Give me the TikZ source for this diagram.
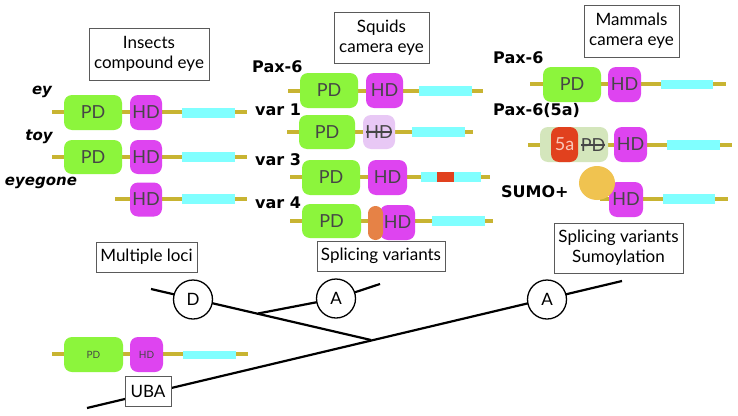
\documentclass[tikz,border=0pt]{standalone}
\usepackage{fontspec}
\setmainfont{Lato}
\newfontfamily\labfont{DejaVu Sans}
\usetikzlibrary{shapes.geometric}
\definecolor{genecol}{RGB}{200,180,50}
\definecolor{pdgreen}{RGB}{140,245,60}
\definecolor{hdmag}{RGB}{222,68,240}
\definecolor{cyanbar}{RGB}{128,255,255}
\definecolor{redbar}{RGB}{225,65,30}
\definecolor{orangeov}{RGB}{230,130,70}
\definecolor{sumoyel}{RGB}{240,195,80}
\definecolor{fadehd}{RGB}{232,200,245}
\definecolor{fadepd}{RGB}{212,230,188}
\definecolor{boxgray}{RGB}{90,90,90}
\definecolor{domtext}{RGB}{70,70,70}
\definecolor{fivea}{RGB}{250,200,185}
\begin{document}
\begin{tikzpicture}[x=1pt,y=-1pt,
  gene/.style={draw=genecol, line width=4pt},
  dom/.style={rounded corners=8pt, inner sep=0pt, minimum height=35pt, font=\fontsize{18}{20}\selectfont, text=domtext},
  pdbox/.style={dom, fill=pdgreen, minimum width=58pt},
  hdbox/.style={dom, fill=hdmag, minimum width=33pt},
  bar/.style={fill=cyanbar, inner sep=0pt, minimum height=10pt, minimum width=53pt},
  infobox/.style={draw=boxgray, line width=0.8pt, fill=white, inner sep=0pt, align=center, font=\fontsize{17}{20}\selectfont},
  lab/.style={font=\labfont\bfseries\fontsize{16}{18}\selectfont, inner sep=0pt},
  ilab/.style={font=\labfont\bfseries\itshape\fontsize{15}{18}\selectfont, inner sep=0pt},
  tree/.style={line width=2.2pt, draw=black},
  event/.style={circle, draw=black, line width=1.3pt, fill=white, minimum size=39pt, inner sep=0pt, font=\fontsize{17}{20}\selectfont},
  strike/.style={line width=1.2pt, draw=domtext}
]
\useasboundingbox (0,0) rectangle (738,415);
\fill[white] (0,0) rectangle (738,415);

% ---------------- Insects ----------------
\node[infobox, minimum width=120pt, minimum height=52pt] (boxIns) at (149,54) {Insects\\compound eye};
\node[ilab] (labEy) at (42,92) {ey};
\node[ilab] (labToy) at (39,137) {toy};
\node[ilab] (labEyegone) at (41,183) {eyegone};

\coordinate (eyL) at (52,112); \coordinate (eyR) at (247,112);
\draw[gene] (eyL) -- (eyR);
\node[pdbox] (eyPD) at (93,112.5) {PD};
\node[hdbox, minimum width=32pt] (eyHD) at (146,112.5) {HD};
\node[bar] (eyC) at (208.5,112.5) {};

\coordinate (toyL) at (52,157); \coordinate (toyR) at (247,157);
\draw[gene] (toyL) -- (toyR);
\node[pdbox, minimum height=34pt] (toyPD) at (93,157) {PD};
\node[hdbox, minimum width=32pt, minimum height=34pt] (toyHD) at (146,157) {HD};
\node[bar] (toyC) at (208.5,157) {};

\coordinate (egL) at (115,199); \coordinate (egR) at (247,199);
\draw[gene] (egL) -- (egR);
\node[hdbox, minimum width=32pt, minimum height=34pt] (egHD) at (146,199.5) {HD};
\node[bar] (egC) at (208.5,199) {};

% ---------------- Squids ----------------
\node[infobox, minimum width=95pt, minimum height=51pt] (boxSq) at (381.5,37.5) {Squids\\camera eye};
\node[lab, anchor=west] (labSqPax) at (252,67) {Pax-6};
\node[lab, anchor=west] (labV1) at (255,110) {var 1};
\node[lab, anchor=west] (labV3) at (255,160) {var 3};
\node[lab, anchor=west] (labV4) at (255,203) {var 4};

\coordinate (sqL) at (288,91); \coordinate (sqR) at (483,91);
\draw[gene] (sqL) -- (sqR);
\node[pdbox] (sqPD) at (329,90.5) {PD};
\node[hdbox, minimum width=37pt] (sqHD) at (384.5,90.5) {HD};
\node[bar] (sqC) at (445.5,91) {};

\coordinate (v1L) at (287,132); \coordinate (v1R) at (473,132);
\draw[gene] (v1L) -- (v1R);
\node[pdbox, minimum width=56pt, minimum height=34pt] (v1PD) at (327,132) {PD};
\node[hdbox, fill=fadehd, minimum width=32pt, minimum height=34pt] (v1HD) at (379,132) {HD};
\draw[strike] ([xshift=-13pt]v1HD.center) -- ([xshift=13pt]v1HD.center);
\node[bar] (v1C) at (438.5,132) {};

\coordinate (v3L) at (290,177); \coordinate (v3R) at (490,177);
\draw[gene] (v3L) -- (v3R);
\node[pdbox] (v3PD) at (331,177.5) {PD};
\node[hdbox, minimum width=39pt] (v3HD) at (387.5,177.5) {HD};
\node[bar, minimum width=60pt] (v3C) at (451,177) {};
\node[fill=redbar, inner sep=0pt, minimum width=17pt, minimum height=10pt] (v3Red) at (445.5,177) {};

\coordinate (v4L) at (290,221); \coordinate (v4R) at (493,221);
\draw[gene] (v4L) -- (v4R);
\node[pdbox, minimum width=59pt, minimum height=34pt] (v4PD) at (331.5,221) {PD};
\node[hdbox, minimum width=35pt] (v4HD) at (397.5,222.5) {HD};
\node[fill=orangeov, rounded corners=7.4pt, inner sep=0pt, minimum width=15pt, minimum height=34pt] (v4Or) at (375.5,223) {};
\node[bar] (v4C) at (458.5,221) {};

% ---------------- Mammals ----------------
\node[infobox, minimum width=95pt, minimum height=52pt] (boxMa) at (631.5,31) {Mammals\\camera eye};
\node[lab, anchor=west] (labMaPax) at (493,58) {Pax-6};
\node[lab, anchor=west] (labMa5a) at (493,110) {Pax-6(5a)};
\node[lab, anchor=west] (labSumo) at (501,192) {SUMO+};

\coordinate (maL) at (530,84); \coordinate (maR) at (726,84);
\draw[gene] (maL) -- (maR);
\node[pdbox] (maPD) at (572,84.5) {PD};
\node[hdbox] (maHD) at (624.5,84.5) {HD};
\node[bar, minimum width=52pt, minimum height=9pt] (maC) at (687,84.5) {};

\coordinate (m5L) at (528,145); \coordinate (m5R) at (732,145);
\draw[gene] (m5L) -- (m5R);
\node[dom, fill=fadepd, minimum width=68pt] (m5PD) at (574,144.5) {};
\node[dom, fill=redbar, minimum width=27pt, text=fivea] (m5A) at (564.5,144.5) {5a};
\node[inner sep=0pt, font=\fontsize{18}{20}\selectfont, text=domtext] (m5PDt) at (593,145) {PD};
\draw[strike] ([xshift=-12pt]m5PDt.center) -- ([xshift=12pt]m5PDt.center);
\node[hdbox] (m5HD) at (630.5,144.5) {HD};
\node[bar] (m5C) at (693.5,145) {};

\coordinate (suL) at (600,199); \coordinate (suR) at (728,199);
\draw[gene] (suL) -- (suR);
\node[hdbox, minimum width=34pt] (suHD) at (626,199.5) {HD};
\node[ellipse, fill=sumoyel, minimum width=36pt, minimum height=34pt, inner sep=0pt] (sumo) at (597,183) {};
\node[bar, minimum width=52pt] (suC) at (689,199) {};

% ---------------- Ancestral gene ----------------
\coordinate (ubL) at (52,354); \coordinate (ubR) at (248,354);
\draw[gene] (ubL) -- (ubR);
\node[pdbox, minimum width=59pt, font=\fontsize{10}{12}\selectfont] (ubPD) at (93.5,354.5) {PD};
\node[hdbox, font=\fontsize{10}{12}\selectfont] (ubHD) at (146.5,354.5) {HD};
\node[bar, minimum height=8pt] (ubC) at (209.5,355) {};

% ---------------- Tree ----------------
\coordinate (root) at (87,408);
\coordinate (tip) at (622,281);
\coordinate (dStart) at (151,289);
\coordinate (junc1) at (371,340);
\coordinate (junc2) at (258,313.5);
\coordinate (a1c) at (336,298.5);
\coordinate (aTip) at (380,284);
\draw[tree] (root) -- (tip);
\draw[tree] (dStart) -- (junc1);
\draw[tree] (junc2) -- (a1c) -- (aTip);
\node[event] (evD) at (193,299.5) {D};
\node[event] (evA1) at (a1c) {A};
\node[event] (evA2) at (547,299.5) {A};

\node[infobox, minimum width=101pt, minimum height=30pt] (boxML) at (146.5,257) {Multiple loci};
\node[infobox, minimum width=128pt, minimum height=30pt] (boxSV) at (381,256) {Splicing variants};
\node[infobox, minimum width=129pt, minimum height=50pt] (boxSS) at (618.5,248) {Splicing variants\\Sumoylation};
\node[infobox, minimum width=46pt, minimum height=30pt] (boxUBA) at (148,391) {UBA};
\end{tikzpicture}
\end{document}
